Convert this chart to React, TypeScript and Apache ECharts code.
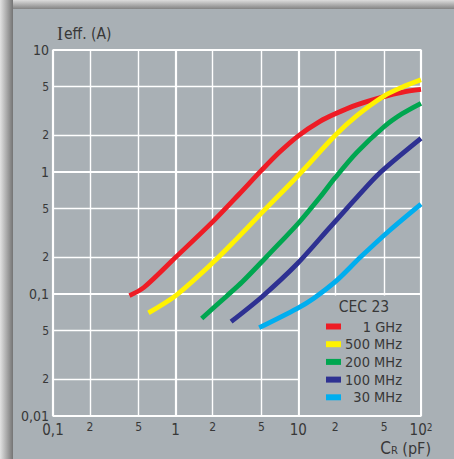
import React, { useEffect, useRef } from "react";
import * as echarts from "echarts";

// Capacitance C_R (pF) along x, effective current (A) along y, both logarithmic.
const cap1G = [0.42, 0.55, 1, 2, 3.3, 5, 7, 10, 15, 20, 30, 50, 70, 100];
const amp1G = [0.097, 0.113, 0.2, 0.39, 0.66, 1.03, 1.45, 1.98, 2.6, 3.0, 3.55, 4.15, 4.5, 4.75];

const cap500M = [0.6, 1, 2, 3, 5, 10, 20, 30, 50, 70, 100];
const amp500M = [0.07, 0.097, 0.18, 0.27, 0.46, 0.94, 2.0, 2.9, 4.2, 4.95, 5.7];

const cap200M = [1.63, 2.6, 3.5, 5.2, 7, 10, 15, 20, 30, 50, 70, 100];
const amp200M = [0.063, 0.096, 0.126, 0.19, 0.26, 0.38, 0.62, 0.9, 1.45, 2.35, 3.0, 3.66];

const cap100M = [2.83, 5.06, 9.75, 18, 30, 47, 100];
const amp100M = [0.0593, 0.095, 0.176, 0.35, 0.62, 1.0, 1.89];

const cap30M = [4.8, 9.75, 13.3, 20.7, 32, 56, 100];
const amp30M = [0.053, 0.076, 0.092, 0.13, 0.2, 0.335, 0.546];

const seriesNames = ["1 GHz", "500 MHz", "200 MHz", "100 MHz", "30 MHz"];
const seriesColors = ["#ee1c25", "#fff200", "#00a650", "#2e3192", "#00aeef"];

// Axis ranges and labels
const xMin = 0.1;
const xMax = 100;
const yMin = 0.01;
const yMax = 10;
const xDecadeText = ["0,1", "1", "10", "10{s|2}"];
const yDecadeText = ["0,01", "0,1", "1", "10"];
const xMinorValues = [0.2, 0.5, 2, 5, 20, 50];
const xMinorText = ["2", "5", "2", "5", "2", "5"];
const yMinorValues = [0.02, 0.05, 0.2, 0.5, 2, 5];
const yMinorText = ["2", "5", "2", "5", "2", "5"];

const legendTitle = "CEC 23";
const yAxisTitle = "{i|I}{t|eff. (A)}";
const xAxisTitle = "{c|C}{r|R}{p| (pF)}";

const FONT = "'Liberation Sans Narrow', 'Arial Narrow', 'DejaVu Sans Condensed', sans-serif";
const TEXT = "#383838";
const PANEL = "#a9b0b5";

const pairs = (xs: number[], ys: number[]) => xs.map((x, i) => [x, ys[i]]);

export default function App() {
  const ref = useRef<HTMLDivElement>(null);

  useEffect(() => {
    document.body.style.margin = "0";
    if (!ref.current) return;
    const chart = echarts.init(ref.current, undefined, { renderer: "svg" });

    const curves = [
      pairs(cap1G, amp1G),
      pairs(cap500M, amp500M),
      pairs(cap200M, amp200M),
      pairs(cap100M, amp100M),
      pairs(cap30M, amp30M),
    ];

    const minorLine = { color: "#ffffff", width: 1.4, type: "solid" as const };
    const minorLabel = (distance: number) => ({
      show: true,
      position: "start",
      distance,
      formatter: "{b}",
      color: TEXT,
      fontFamily: FONT,
      fontSize: 12,
    });

    chart.setOption({
      animation: false,
      backgroundColor: PANEL,
      grid: {
        left: 53,
        top: 50,
        right: 33,
        bottom: 43,
        show: true,
        borderColor: "#f2f4f5",
        borderWidth: 1.4,
        backgroundColor: "transparent",
      },
      xAxis: {
        type: "log",
        logBase: 10,
        min: xMin,
        max: xMax,
        axisLine: { show: false },
        axisTick: { show: false },
        splitLine: { show: true, lineStyle: { color: "#ffffff", width: 2.2 } },
        axisLabel: {
          margin: 6,
          color: TEXT,
          fontFamily: FONT,
          fontSize: 15,
          formatter: (v: number) => xDecadeText[Math.round(Math.log10(v)) + 1] ?? "",
          rich: {
            s: { fontSize: 10, lineHeight: 10, verticalAlign: "top", color: TEXT, fontFamily: FONT },
          },
        },
      },
      yAxis: {
        type: "log",
        logBase: 10,
        min: yMin,
        max: yMax,
        axisLine: { show: false },
        axisTick: { show: false },
        splitLine: { show: true, lineStyle: { color: "#ffffff", width: 2.2 } },
        axisLabel: {
          margin: 4,
          color: TEXT,
          fontFamily: FONT,
          fontSize: 14,
          formatter: (v: number) => yDecadeText[Math.round(Math.log10(v)) + 2] ?? "",
        },
      },
      legend: {
        data: seriesNames,
        orient: "vertical",
        left: 326,
        top: 319,
        padding: 0,
        z: 10,
        itemWidth: 15,
        itemHeight: 6,
        itemGap: 2.7,
        icon: "rect",
        selectedMode: false,
        formatter: "{n|{name}}",
        textStyle: {
          rich: {
            n: {
              width: 56,
              align: "right",
              fontSize: 14.5,
              lineHeight: 16,
              color: TEXT,
              fontFamily: FONT,
            },
          },
        },
      },
      series: [
        {
          name: "grid",
          type: "line",
          data: [],
          silent: true,
          z: 1,
          markLine: {
            silent: true,
            z: 1,
            symbol: "none",
            animation: false,
            lineStyle: minorLine,
            data: [
              ...xMinorValues.map((v, i) => ({ xAxis: v, name: xMinorText[i], label: minorLabel(5) })),
              ...yMinorValues.map((v, i) => ({ yAxis: v, name: yMinorText[i], label: minorLabel(4) })),
            ],
          },
        },
        ...curves.map((data, i) => ({
          name: seriesNames[i],
          type: "line",
          z: 8,
          data,
          smooth: 0.3,
          showSymbol: false,
          color: seriesColors[i],
          lineStyle: { color: seriesColors[i], width: 4.8, cap: "butt" },
        })),
      ],
    });

    // Box behind the legend, filling the cell between C = 10..100 pF and I = 0.01..0.1 A
    const a = chart.convertToPixel({ gridIndex: 0 }, [10, 0.1]) as number[];
    const b = chart.convertToPixel({ gridIndex: 0 }, [100, 0.01]) as number[];

    chart.setOption({
      graphic: {
        elements: [
          {
            type: "rect",
            z: -1,
            shape: { x: 0, y: 0, width: 454, height: 9 },
            style: {
              fill: new echarts.graphic.LinearGradient(0, 0, 0, 1, [
                { offset: 0, color: "#dcdcdc" },
                { offset: 1, color: "#838383" },
              ]),
            },
          },
          {
            type: "rect",
            z: -1,
            shape: { x: 0, y: 0, width: 13, height: 459 },
            style: {
              fill: new echarts.graphic.LinearGradient(0, 0, 1, 0, [
                { offset: 0, color: "#e2e2e2" },
                { offset: 1, color: "#747474" },
              ]),
            },
          },
          {
            type: "rect",
            z: 6,
            shape: { x: a[0] + 1.6, y: a[1] + 1.6, width: b[0] - a[0] - 2.6, height: b[1] - a[1] - 2.6 },
            style: { fill: PANEL },
          },
          {
            type: "text",
            z: 10,
            x: 364,
            y: 307,
            style: {
              text: legendTitle,
              align: "center",
              verticalAlign: "middle",
              fill: TEXT,
              fontFamily: FONT,
              fontSize: 15.5,
            },
          },
          {
            type: "text",
            z: 10,
            x: 57,
            y: 34,
            style: {
              text: yAxisTitle,
              align: "left",
              verticalAlign: "middle",
              rich: {
                i: { fontFamily: "'Liberation Serif', serif", fontSize: 18, fill: TEXT, padding: [0, 1, 0, 0] },
                t: { fontFamily: FONT, fontSize: 15.5, fill: TEXT },
              },
            },
          },
          {
            type: "text",
            z: 10,
            x: 431,
            y: 447,
            style: {
              text: xAxisTitle,
              align: "right",
              verticalAlign: "middle",
              rich: {
                c: { fontFamily: FONT, fontSize: 17, fill: TEXT, lineHeight: 18, verticalAlign: "bottom" },
                r: { fontFamily: FONT, fontSize: 11, fill: TEXT, lineHeight: 18, verticalAlign: "bottom" },
                p: { fontFamily: FONT, fontSize: 16, fill: TEXT, lineHeight: 18, verticalAlign: "bottom" },
              },
            },
          },
        ],
      },
    });

    return () => chart.dispose();
  }, []);

  return <div ref={ref} style={{ width: 454, height: 459 }} />;
}
